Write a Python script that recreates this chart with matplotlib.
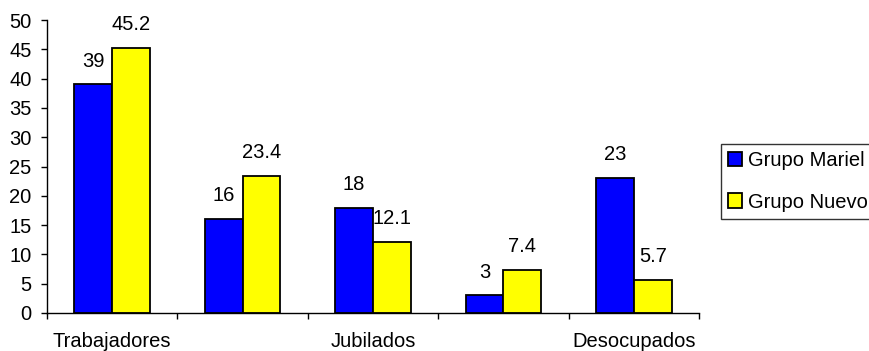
import matplotlib
matplotlib.use("Agg")
import matplotlib.pyplot as plt
import numpy as np

plt.rcParams['font.family'] = ['Liberation Sans', 'DejaVu Sans']

categories = ["Trabajadores", "", "Jubilados", "", "Desocupados"]
mariel = [39, 16, 18, 3, 23]
nuevo = [45.2, 23.4, 12.1, 7.4, 5.7]
mariel_labels = ["39", "16", "18", "3", "23"]
nuevo_labels = ["45.2", "23.4", "12.1", "7.4", "5.7"]

FS = 14.5

fig = plt.figure(figsize=(8.7, 3.51), dpi=100)
ax = fig.add_axes([47/870, 1-313/351, (699-47)/870, (313-20)/351])

x = np.arange(len(categories))
w = 0.29
b1 = ax.bar(x - w/2, mariel, w, color='#0000FF', edgecolor='black', linewidth=1.3, label='Grupo Mariel')
b2 = ax.bar(x + w/2, nuevo, w, color='#FFFF00', edgecolor='black', linewidth=1.3, label='Grupo Nuevo')

for bars, labs in ((b1, mariel_labels), (b2, nuevo_labels)):
    for r, t in zip(bars, labs):
        ax.annotate(t, (r.get_x() + r.get_width()/2, r.get_height()),
                    xytext=(0, 10), textcoords='offset points',
                    ha='center', va='bottom', fontsize=FS)

ax.set_xlim(-0.5, len(categories) - 0.5)
ax.set_ylim(0, 50)
ax.set_yticks(np.arange(0, 51, 5))
ax.set_xticks(x)
ax.set_xticklabels(categories, fontsize=FS)
ax.set_xticks(np.arange(-0.5, len(categories), 1), minor=True)
ax.tick_params(axis='x', which='major', length=0, pad=14)
ax.tick_params(axis='x', which='minor', length=4.5, direction='out', width=1)
ax.tick_params(axis='y', labelsize=FS, length=4.5, direction='out', width=1, pad=6.5)
for s in ('top', 'right'):
    ax.spines[s].set_visible(False)
for s in ('left', 'bottom'):
    ax.spines[s].set_linewidth(1)

leg = fig.legend(loc='center left', bbox_to_anchor=(721/870, 1-181.5/351),
                 fontsize=FS, frameon=True, fancybox=False, edgecolor='black',
                 handlelength=0.7, handleheight=0.7, handletextpad=0.3,
                 borderpad=0.35, labelspacing=1.1, borderaxespad=0)
leg.get_frame().set_linewidth(1)

fig.savefig("out.png", dpi=100)
